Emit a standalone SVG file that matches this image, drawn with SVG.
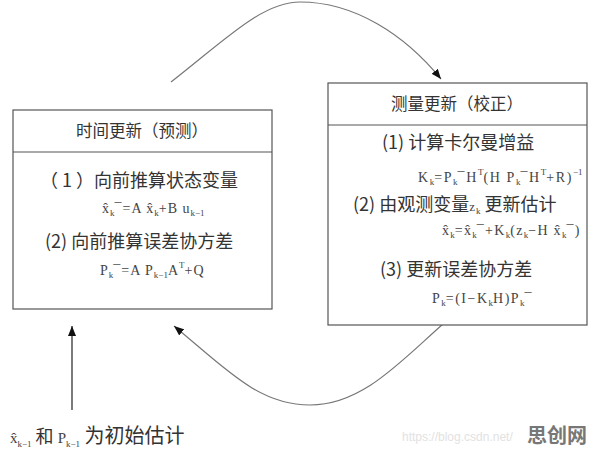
<svg xmlns="http://www.w3.org/2000/svg" width="596" height="449" viewBox="0 0 596 449">
<style>
.box{fill:#fff;stroke:#555;stroke-width:1.2}
.div{stroke:#555;stroke-width:1.2}
.cn{font-family:"Noto Sans CJK SC","Noto Sans",sans-serif;fill:#333}
.h{font-size:16.5px}
.t{font-size:18px}
.f{font-family:"Liberation Serif","Noto Sans CJK SC",serif;font-size:14px;fill:#444;letter-spacing:1px}
.s{font-size:9px;letter-spacing:0}
.con{fill:none;stroke:#777;stroke-width:1.2}
.va{fill:none;stroke:#222;stroke-width:1.2}
</style>
<defs>
<marker id="ah" viewBox="0 0 10 8" refX="10" refY="4" markerWidth="10" markerHeight="8" markerUnits="userSpaceOnUse" orient="auto">
<path d="M0,0 L10,4 L0,8 Z" fill="#111"/>
</marker>
</defs>
<rect width="596" height="449" fill="#fff"/>

<g id="connectors">
<path class="con" d="M171,82 C225,40 262,2 300,2 C355,2 405,35 441,79" marker-end="url(#ah)"/>
<path class="con" d="M443,324 C400,362 362,405 310,405 C258,405 225,368 174,326" marker-end="url(#ah)"/>
<path class="va" d="M72,410 L72,326" marker-end="url(#ah)"/>
</g>

<g id="time-update">
<rect class="box" x="13" y="110" width="259" height="199"/>
<line class="div" x1="13" y1="152" x2="272" y2="152"/>
<text class="cn h" x="142" y="137" text-anchor="middle">时间更新（预测）</text>
<text class="cn t" x="40" y="187">（ 1 ）向前推算状态变量</text>
<text class="f" x="102" y="213">x̂<tspan class="s" y="216">k</tspan><tspan y="213">¯=A x̂</tspan><tspan class="s" y="216">k</tspan><tspan y="213">+B u</tspan><tspan class="s" y="216">k−1</tspan></text>
<text class="cn t" x="45" y="248">(2) 向前推算误差协方差</text>
<text class="f" x="100" y="275">P<tspan class="s" y="278">k</tspan><tspan y="275">¯=A P</tspan><tspan class="s" y="278">k−1</tspan><tspan y="275">A</tspan><tspan class="s" y="268">T</tspan><tspan y="275">+Q</tspan></text>
</g>

<g id="measurement-update">
<rect class="box" x="328" y="83" width="259" height="242"/>
<line class="div" x1="328" y1="125" x2="587" y2="125"/>
<text class="cn h" x="457" y="110" text-anchor="middle">测量更新（校正）</text>
<text class="cn t" x="382" y="149">(1) 计算卡尔曼增益</text>
<text class="f" x="418" y="182" style="letter-spacing:1.6px">K<tspan class="s" y="185">k</tspan><tspan y="182">=P</tspan><tspan class="s" y="185">k</tspan><tspan y="182">¯H</tspan><tspan class="s" y="175">T</tspan><tspan y="182">(H P</tspan><tspan class="s" y="185">k</tspan><tspan y="182">¯H</tspan><tspan class="s" y="175">T</tspan><tspan y="182">+R)</tspan><tspan class="s" y="175">−1</tspan></text>
<text class="cn t" x="353" y="211">(2) 由观测变量<tspan class="f" style="font-size:13px">z</tspan><tspan class="f s" y="214">k</tspan><tspan y="211"> 更新估计</tspan></text>
<text class="f" x="442" y="235" style="letter-spacing:1.3px">x̂<tspan class="s" y="238">k</tspan><tspan y="235">=x̂</tspan><tspan class="s" y="238">k</tspan><tspan y="235">¯+K</tspan><tspan class="s" y="238">k</tspan><tspan y="235">(z</tspan><tspan class="s" y="238">k</tspan><tspan y="235">−H x̂</tspan><tspan class="s" y="238">k</tspan><tspan y="235">¯)</tspan></text>
<text class="cn t" x="380" y="276">(3) 更新误差协方差</text>
<text class="f" x="432" y="303" style="letter-spacing:1.5px">P<tspan class="s" y="306">k</tspan><tspan y="303">=(I−K</tspan><tspan class="s" y="306">k</tspan><tspan y="303">H)P</tspan><tspan class="s" y="306">k</tspan><tspan y="303">¯</tspan></text>
</g>

<g id="initial">
<text class="f" x="10" y="443" style="font-size:15px;letter-spacing:0">x̂<tspan class="s" y="447">k−1</tspan><tspan class="cn" y="443" style="font-size:18px"> 和 </tspan><tspan y="443">P</tspan><tspan class="s" y="447">k−1</tspan><tspan class="cn" y="443" style="font-size:20px"> 为初始估计</tspan></text>
</g>

<g id="watermark">
<text x="402" y="441" style="font-family:'Liberation Sans',sans-serif;font-size:12px;fill:#e2e2e2">https://blog.csdn.net/</text>
<text x="527" y="443" style="font-family:'Noto Sans CJK SC',sans-serif;font-size:20px;font-weight:bold;fill:#777">思创网</text>
</g>
</svg>
